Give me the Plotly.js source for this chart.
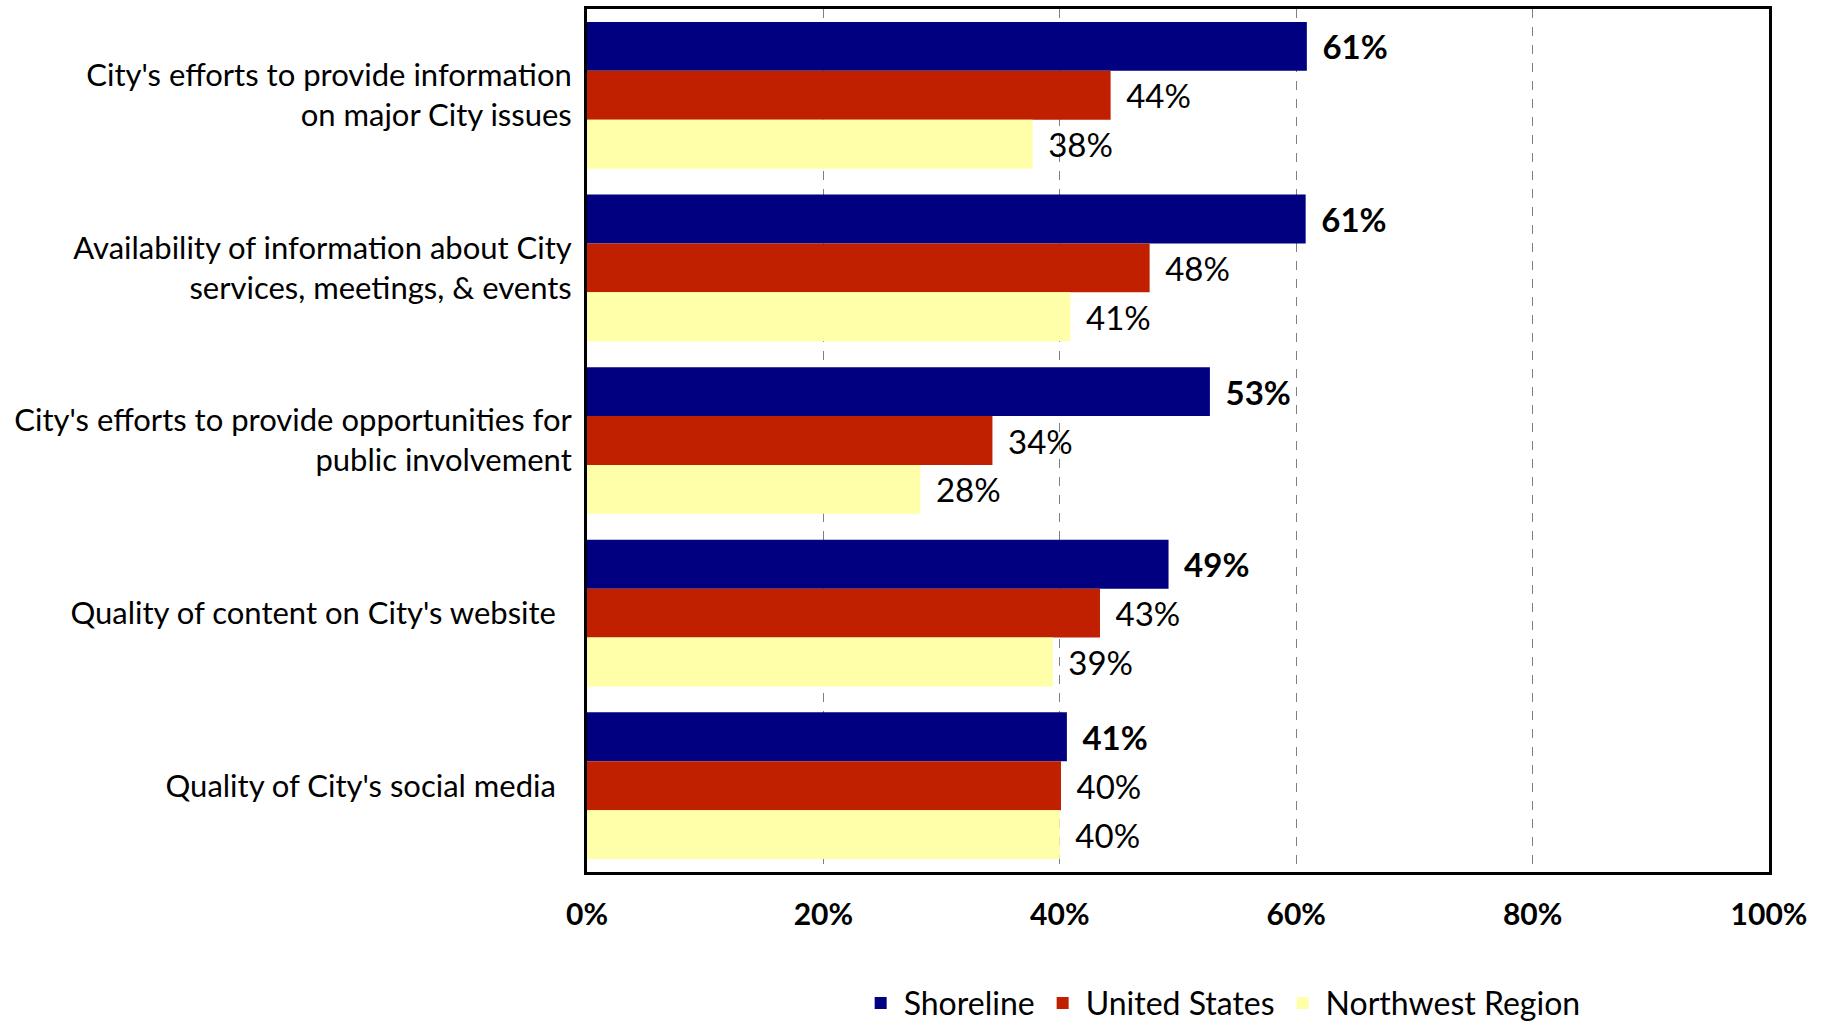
<!DOCTYPE html>
<html>
<head>
<meta charset="utf-8">
<script src="https://cdn.plot.ly/plotly-3.0.1.min.js"></script>
<style>html,body{margin:0;padding:0;background:#fff;}</style>
</head>
<body>
<div id="chart" style="width:1827px;height:1021px;"></div>
<script>
const categories = [
  "City's efforts to provide information<br>on major City issues",
  "Availability of information about City<br>services, meetings, & events",
  "City's efforts to provide opportunities for<br>public involvement",
  "Quality of content on City's website\u00a0\u00a0",
  "Quality of City's social media\u00a0\u00a0"
];
const seriesNames = ["Shoreline", "United States", "Northwest Region"];
const shoreline = [0.609, 0.608, 0.527, 0.492, 0.406];
const unitedStates = [0.443, 0.476, 0.343, 0.434, 0.401];
const northwest = [0.377, 0.409, 0.282, 0.394, 0.400];
const xTickVals = [0, 0.2, 0.4, 0.6, 0.8, 1.0];
const xTickText = ["0%", "20%", "40%", "60%", "80%", "100%"];

const colors = ["#000080", "#C02000", "#FFFFAA"];
const FONT = "Lato, 'Open Sans', sans-serif";

function mk(name, vals, color, bold) {
  return {
    type: 'bar', orientation: 'h', name: name,
    y: categories, x: vals,
    marker: {color: color, line: {width: 0}},
    text: vals.map(v => '\u00a0\u2009' + (bold ? '<b>' : '') + Math.round(v * 100) + '%' + (bold ? '</b>' : '')),
    texttemplate: '%{text}',
    textposition: 'outside',
    cliponaxis: false,
    constraintext: 'none',
    textfont: {family: FONT, size: 33, color: '#000'},
    hoverinfo: 'skip'
  };
}

const data = [
  mk(seriesNames[0], shoreline, colors[0], true),
  mk(seriesNames[1], unitedStates, colors[1], false),
  mk(seriesNames[2], northwest, colors[2], false)
];

const layout = {
  width: 1827, height: 1021,
  margin: {l: 587, r: 58, t: 9, b: 149, pad: 0, autoexpand: false},
  paper_bgcolor: '#fff', plot_bgcolor: '#fff',
  barmode: 'group', bargap: 0.15, bargroupgap: 0,
  font: {family: FONT, size: 31, color: '#000'},
  xaxis: {
    range: [0, 1], tickvals: xTickVals, ticktext: xTickText,
    tickfont: {family: FONT, size: 30, color: '#000', weight: 'bold'},
    showgrid: true, gridcolor: '#7f7f7f', gridwidth: 1, griddash: 'dash',
    zeroline: false, showline: true, linecolor: '#000', linewidth: 3, mirror: true,
    ticks: '', ticklabelstandoff: 14, fixedrange: true, automargin: false
  },
  yaxis: {
    autorange: 'reversed', type: 'category',
    tickfont: {family: FONT, size: 31, color: '#000'},
    showgrid: false, zeroline: false, showline: true, linecolor: '#000', linewidth: 3, mirror: true,
    ticks: '', ticklabelstandoff: 6, fixedrange: true, automargin: false
  },
  showlegend: true,
  legend: {
    orientation: 'h', x: 0.229, xanchor: 'left', y: -0.152, yanchor: 'middle',
    font: {family: FONT, size: 32, color: '#000'},
    itemwidth: 36, tracegroupgap: 0, traceorder: 'normal'
  }
};

Plotly.newPlot('chart', data, layout, {displayModeBar: false, staticPlot: true});
</script>
</body>
</html>
